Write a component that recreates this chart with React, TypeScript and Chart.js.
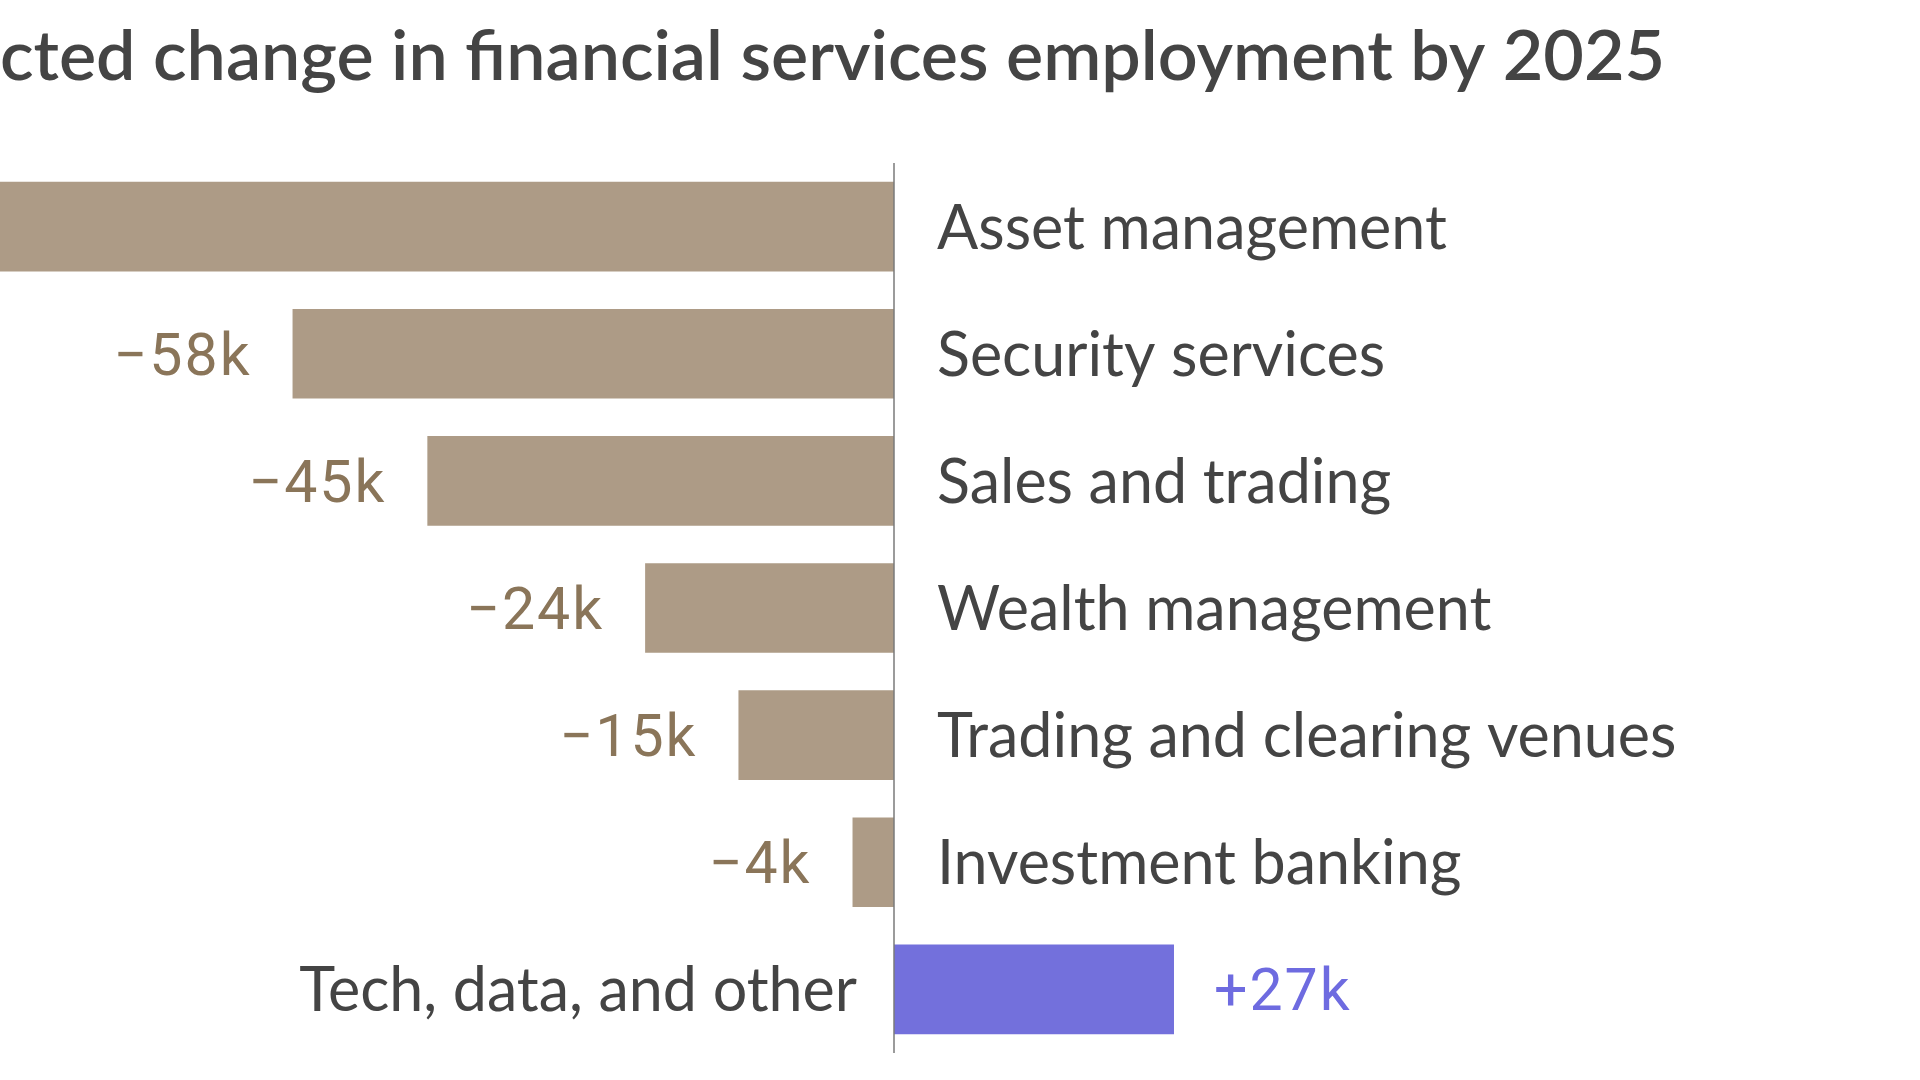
import React, { useEffect, useRef } from "react";
import { Chart, registerables } from "chart.js";

Chart.register(...registerables);

const categories = [
  "Asset management",
  "Security services",
  "Sales and trading",
  "Wealth management",
  "Trading and clearing venues",
  "Investment banking",
  "Tech, data, and other",
];
const changeK = [-90, -58, -45, -24, -15, -4, 27];
const titleHidden = "Proje";
const titleText = "Projected change in financial services employment by 2025";

const NEG_BAR = "#ad9b86";
const POS_BAR = "#7370dc";
const NEG_TXT = "#8a7559";
const POS_TXT = "#6e6be0";
const TEXT = "#444444";

const CANVAS_W = 2074;
const CANVAS_H = 1080;
const OFFSET_X = -143;

const fmt = (v: number) => (v < 0 ? "\u2212" + Math.abs(v) + "k" : "+" + v + "k");

const labelsPlugin = {
  id: "labelsPlugin",
  afterDatasetsDraw(chart: any) {
    const { ctx, chartArea } = chart;
    const xScale = chart.scales.x;
    const meta = chart.getDatasetMeta(0);
    const zeroX = xScale.getPixelForValue(0);
    ctx.save();
    // zero line
    ctx.strokeStyle = "#7a7a7a";
    ctx.lineWidth = 1.5;
    ctx.beginPath();
    ctx.moveTo(zeroX, chartArea.top);
    ctx.lineTo(zeroX, chartArea.bottom);
    ctx.stroke();

    meta.data.forEach((bar: any, i: number) => {
      const v = changeK[i];
      const y = bar.y;
      // category label
      ctx.font = "400 61px Lato";
      (ctx as any).letterSpacing = "0px";
      ctx.fillStyle = TEXT;
      ctx.textBaseline = "alphabetic";
      if (v < 0) {
        ctx.textAlign = "left";
        ctx.fillText(categories[i], zeroX + 43, y + 22);
      } else {
        ctx.textAlign = "right";
        ctx.fillText(categories[i], zeroX - 37, y + 22);
      }
      // value label
      ctx.font = "400 59px Roboto";
      (ctx as any).letterSpacing = "2px";
      if (v < 0) {
        ctx.fillStyle = NEG_TXT;
        ctx.textAlign = "right";
        ctx.fillText(fmt(v), bar.x - 41, y + 21);
      } else {
        ctx.fillStyle = POS_TXT;
        ctx.textAlign = "left";
        ctx.fillText(fmt(v), bar.x + 40, y + 21);
      }
    });

    // title, partially cut off at the left edge of the view
    ctx.font = "600 70px Lato";
    (ctx as any).letterSpacing = "0px";
    ctx.fillStyle = TEXT;
    ctx.textAlign = "left";
    const hiddenW = ctx.measureText(titleHidden).width;
    ctx.fillText(titleText, -OFFSET_X - hiddenW, 80);
    ctx.restore();
  },
};

export default function App() {
  const ref = useRef<HTMLCanvasElement | null>(null);
  useEffect(() => {
    if (!ref.current) return;
    const chart = new Chart(ref.current, {
      type: "bar",
      data: {
        labels: categories,
        datasets: [
          {
            data: changeK,
            backgroundColor: changeK.map((v) => (v < 0 ? NEG_BAR : POS_BAR)),
            borderWidth: 0,
            categoryPercentage: 1,
            barPercentage: 0.705,
          },
        ],
      },
      options: {
        indexAxis: "y",
        animation: false,
        responsive: false,
        maintainAspectRatio: false,
        devicePixelRatio: 1,
        layout: { padding: { top: 163, bottom: 27, left: 0, right: 0 } },
        plugins: {
          legend: { display: false },
          tooltip: { enabled: false },
          title: { display: false },
        },
        scales: {
          x: { display: false, min: -100, max: 100 },
          y: { display: false },
        },
      },
      plugins: [labelsPlugin],
    });
    return () => chart.destroy();
  }, []);

  return (
    <div
      style={{
        position: "fixed",
        left: 0,
        top: 0,
        width: 1920,
        height: 1080,
        overflow: "hidden",
        background: "#fff",
      }}
    >
      <canvas
        ref={ref}
        width={CANVAS_W}
        height={CANVAS_H}
        style={{ position: "absolute", left: OFFSET_X, top: 0, width: CANVAS_W, height: CANVAS_H }}
      />
    </div>
  );
}
